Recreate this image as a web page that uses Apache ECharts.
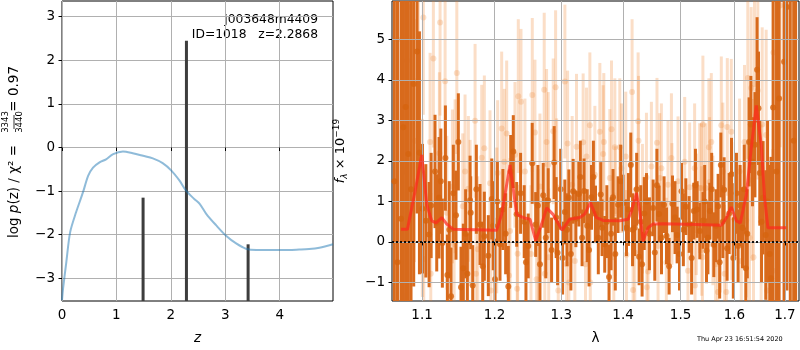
<!DOCTYPE html>
<html>
<head>
<meta charset="utf-8">
<script src="https://cdn.jsdelivr.net/npm/echarts@6/dist/echarts.min.js"></script>
<style>
  html, body { margin: 0; padding: 0; background: #fff; }
  #chart { width: 800px; height: 350px; }
</style>
</head>
<body>
<div id="chart"></div>
<script>
// left panel: redshift probability
const zGrid = [0.0, 0.02, 0.08, 0.15, 0.26, 0.385, 0.48, 0.57, 0.69, 0.81, 0.94, 1.12, 1.30, 1.49, 1.67, 1.85,
  2.01, 2.16, 2.28, 2.43, 2.53, 2.65, 2.83, 3.02, 3.20, 3.38, 3.57, 3.75, 4.06, 4.36, 4.54, 4.73, 4.98]
const logPz = [-3.5, -3.23, -2.62, -1.94, -1.48, -1.03, -0.65, -0.46, -0.34, -0.27, -0.15, -0.09, -0.13, -0.19, -0.25, -0.36,
  -0.53, -0.76, -0.99, -1.18, -1.29, -1.52, -1.78, -2.03, -2.20, -2.32, -2.35, -2.35, -2.35, -2.34, -2.33, -2.30, -2.22]
const zPeaks = [1.49, 2.2868, 3.42]
const peakVals = [-1.15, 2.45, -2.22]
const zTicks = [0, 1, 2, 3, 4]
const pzTicks = [-3, -2, -1, 0, 1, 2, 3]

// right panel: spectrum (dark = binned, light = unbinned)
const lamDark = [1.064, 1.068, 1.0726, 1.0755, 1.0785, 1.082, 1.0855, 1.089, 1.0934, 1.0965,
  1.1005, 1.105, 1.1093, 1.1172, 1.1195, 1.1226, 1.1271, 1.1312, 1.1339, 1.1389, 1.1457, 1.1489, 1.1526, 1.1558,
  1.1614, 1.1652, 1.1661, 1.1689, 1.1792, 1.1853, 1.1910, 1.1959, 1.2006, 1.2078, 1.2199, 1.2234, 1.2272, 1.2322,
  1.2434, 1.2494, 1.2554, 1.2606, 1.2671, 1.2721, 1.2797, 1.2849, 1.2889, 1.2942, 1.3055, 1.3118, 1.3186, 1.3229,
  1.3276, 1.3328, 1.3360, 1.3479, 1.3544, 1.3630, 1.3651, 1.3695, 1.3766, 1.3832, 1.3916, 1.4000, 1.4057, 1.4130,
  1.4198, 1.4272, 1.4323, 1.4399, 1.4514, 1.4543, 1.4618, 1.4706, 1.4749, 1.4795, 1.4855, 1.4938, 1.5017, 1.5095,
  1.5155, 1.5240, 1.5301, 1.5350, 1.5411, 1.5474, 1.5536, 1.5610, 1.5691, 1.5742, 1.5804, 1.5861, 1.5945, 1.6008,
  1.6072, 1.6157, 1.6221, 1.6285, 1.6351, 1.6442, 1.6495, 1.6561, 1.6614, 1.6694, 1.6761, 1.6830, 1.6882, 1.6983,
  1.7040, 1.7110, 1.7180, 1.7220,
  // in-between bins
  1.1120, 1.1250, 1.1365, 1.1420, 1.1590, 1.1740, 1.1830, 1.1980, 1.2040, 1.2120, 1.2160, 1.2380,
  1.2460, 1.2640, 1.2760, 1.2920, 1.2990, 1.3020, 1.3090, 1.3150, 1.3300, 1.3410, 1.3440, 1.3510,
  1.3590, 1.3730, 1.3800, 1.3870, 1.3960, 1.4090, 1.4160, 1.4230, 1.4300, 1.4360, 1.4450, 1.4580,
  1.4660, 1.4900, 1.4980, 1.5050, 1.5200, 1.5270, 1.5440, 1.5500, 1.5570, 1.5650, 1.5720, 1.5780,
  1.5900, 1.5980, 1.6040, 1.6110, 1.6190, 1.6250, 1.6320, 1.6400, 1.6470, 1.6530, 1.6650, 1.6720]
const fluxDark = [1.5, -0.5, 0.57, 2.83, 3.33, 2.17, 1.3, 3.9, 4.7, 2.2,
  0.82, 0.52, 0.18, 1.74, 0.47, 1.09, -0.03, 2.07, -0.82, -1.34, 0.66, 2.47, -1.12, -0.65,
  -0.79, 1.03, 0.72, -1.08, 0.43, 0.14, -0.34, 1.06, -0.92, -0.06, -1.1, 1.74, 2.23, 0.68,
  0.5, -0.1, 1.94, 0.43, -0.55, 1.15, 1.02, -0.2, 1.96, -0.27, 0.74, 1.09, 1.25, 0.57,
  1.18, 0.1, 1.26, 1.1, 0.69, 1.17, 0.35, -0.06, -0.87, 1.1, 0.92, 0.96, 0.35, 1.9,
  0.35, -0.37, -0.55, 1.0, 0.84, -0.26, 0.69, 0.92, 0.15, -0.6, 0.94, 0.17, 1.25, 0.87,
  0.43, 0.76, 0.8, 0.27, 0.53, -0.22, 0.76, -0.07, 0.88, 1.9, 1.29, -0.16, 1.67, 0.55,
  -0.1, 0.35, -0.65, 2.47, 1.98, 4.25, 1.7, 1.09, 0.17, -0.3, 3.32, 1.74, 3.54, 4.45,
  5.8, -1.8, 2.5, -2.2,
  0.9, 1.5, 0.3, 1.2, 0.2, 1.3, -0.6, 0.4, 1.0, 0.8, 0.2, 1.2,
  -0.5, 0.9, 0.1, 0.6, 1.3, -0.4, 0.3, -0.3, 1.6, 0.4, -0.2, 1.6,
  0.1, 0.5, 0.2, -0.3, 1.5, 0.8, 0.3, 1.3, 0.5, 0.7, 0.2, 1.4,
  0.1, 0.6, -0.3, 0.3, -0.4, 1.4, 1.0, 0.1, 1.3, 0.4, -0.5, 0.5,
  0.7, -0.4, 1.2, 0.9, 1.3, 0.2, 2.9, 2.4, 3.3, 0.5, 1.0, -0.9]
const errDark = [7, 7, 6, 6, 6, 5, 5, 5, 4, 3,
  1.6, 1.4, 1.3, 1.4, 1.2, 1.5, 1.1, 1.3, 1.0, 1.2, 1.1, 1.2, 1.0, 1.1,
  1.0, 1.1, 0.9, 1.0, 1.0, 1.1, 1.0, 1.0, 1.0, 0.9, 1.0, 0.9, 0.9, 0.8,
  0.9, 0.8, 1.0, 0.8, 0.9, 0.8, 0.8, 0.8, 0.9, 0.8, 0.8, 0.7, 0.8, 0.7,
  0.8, 0.7, 0.8, 0.8, 0.7, 0.8, 0.7, 0.7, 0.8, 0.7, 0.7, 0.7, 0.7, 0.8,
  0.7, 0.7, 0.8, 0.7, 0.7, 0.7, 0.7, 0.7, 0.7, 0.7, 0.7, 0.7, 0.7, 0.7,
  0.7, 0.7, 0.7, 0.7, 0.7, 0.8, 0.7, 0.8, 0.8, 0.8, 0.8, 0.8, 0.9, 0.9,
  0.9, 1.0, 1.0, 1.1, 1.1, 1.3, 1.3, 1.4, 1.6, 2.2, 5, 6, 6, 6,
  7, 8, 9, 9,
  1.3, 1.3, 1.2, 1.2, 1.1, 1.1, 1.1, 1.1, 1.0, 1.0, 1.0, 1.0,
  1.0, 1.0, 1.0, 1.0, 1.0, 0.9, 0.9, 0.9, 0.9, 0.9, 0.9, 0.9,
  0.9, 0.9, 0.9, 0.9, 0.9, 0.9, 0.9, 0.9, 0.9, 0.9, 0.9, 0.9,
  0.9, 0.9, 0.9, 0.9, 0.9, 0.9, 0.9, 0.9, 0.9, 0.9, 0.9, 0.9,
  1.0, 1.0, 1.0, 1.0, 1.1, 1.1, 1.2, 1.3, 1.4, 1.5, 2.0, 3]

const lamLight = [1.068, 1.075, 1.080, 1.086, 1.090, 1.095, 1.1004, 1.1017, 1.1022, 1.1106, 1.1115, 1.1150,
  1.1231, 1.1240, 1.1308, 1.1331, 1.1408, 1.1431, 1.1444, 1.1468, 1.1550, 1.1582, 1.1628, 1.1652,
  1.1722, 1.1735, 1.1760, 1.1816, 1.1853, 1.1934, 1.1945, 1.2030, 1.2044, 1.2102, 1.2141, 1.2175,
  1.2209, 1.2224, 1.2297, 1.2330, 1.2336, 1.2346, 1.2386, 1.2445, 1.2535, 1.2555, 1.2595, 1.2620,
  1.2645, 1.2671, 1.2736, 1.2745, 1.2772, 1.2797, 1.2805, 1.2874, 1.2911, 1.2927, 1.2952, 1.3056,
  1.3082, 1.3098, 1.3118, 1.3170, 1.3213, 1.3239, 1.3345, 1.3383, 1.3399, 1.3453, 1.3460, 1.3534,
  1.3615, 1.3669, 1.3680, 1.3779, 1.3807, 1.3845, 1.3862, 1.3870, 1.3945, 1.3973, 1.4045, 1.4057,
  1.4152, 1.4169, 1.4198, 1.4255, 1.4262, 1.4329, 1.4398, 1.4405, 1.4426, 1.4484, 1.4581, 1.4600,
  1.4629, 1.4659, 1.4746, 1.4775, 1.4836, 1.4845, 1.4954, 1.5074, 1.5133, 1.5164, 1.5255, 1.5262,
  1.5286, 1.5347, 1.5378, 1.5385, 1.5400, 1.5407, 1.5457, 1.5518, 1.5531, 1.5563, 1.5593, 1.5643,
  1.5687, 1.5732, 1.5751, 1.5781, 1.5813, 1.5846, 1.5865, 1.5941, 1.5950, 1.6100, 1.6133, 1.6196,
  1.6229, 1.6260, 1.6293, 1.6326, 1.6345, 1.6371, 1.6391, 1.6456, 1.6523, 1.6543, 1.6622, 1.6640,
  1.6755, 1.6769, 1.6904]
const fluxLight = [5.0, 1.74, 4.48, 5.8, 2.5, 4.0, 0.84, 5.54, -0.43, 2.47, -0.79, 4.53,
  2.19, 5.42, 3.97, 0.72, 1.37, -0.06, 1.62, 4.17, 0.88, 1.74, 1.31, 0.72,
  2.99, -0.79, -0.18, 2.08, 2.31, 1.45, -1.2, 0.53, 1.7, 2.8, 1.98, 2.68,
  -0.83, 0.27, 2.15, -1.16, -0.29, 3.6, 3.46, 1.74, -0.3, 3.63, 2.7, -0.92,
  0.1, 1.37, 3.76, -0.79, 2.47, 1.9, -0.38, 2.73, 3.82, 1.35, -1.2, 3.96,
  -0.55, 2.43, -1.0, 1.41, -0.47, 2.35, 2.46, -0.55, 2.11, 2.88, -1.0, 1.66,
  2.72, 2.17, 2.47, 1.58, 2.78, -0.38, 2.34, 0.76, 2.34, 1.82, 2.11, -0.32,
  3.7, -1.19, -0.26, 2.98, 2.5, 0.82, 1.59, -1.12, -0.73, 1.86, 2.45, -0.1,
  1.58, 1.82, -0.51, 1.41, 2.07, 0.94, 1.5, 1.98, -0.71, 1.35, 1.82, -1.08,
  0.68, 1.33, 1.33, 0.27, -0.38, 2.9, 1.33, 2.34, 1.48, 2.47, 0.53, -0.55,
  -1.24, 0.35, 2.88, 1.74, -0.79, -1.24, 2.84, 2.72, 0.76, 1.74, -0.47, 2.47,
  0.53, 4.05, 0.1, 3.8, 1.53, -0.38, 3.9, 3.74, 0.6, 2.9, 2.64, -1.2,
  -0.71, 4.68, 5.84]
const errLight = [3, 3, 3, 3, 3, 2.5, 2.2, 2.4, 2.2, 2.2, 2.0, 2.2,
  2.0, 2.3, 2.0, 1.9, 1.9, 1.8, 1.9, 2.0, 1.8, 1.9, 1.8, 1.8,
  1.9, 1.8, 1.8, 1.8, 1.8, 1.8, 1.7, 1.8, 1.8, 1.9, 1.8, 1.8,
  1.7, 1.8, 1.8, 1.7, 1.7, 1.9, 1.8, 1.8, 1.7, 1.9, 1.8, 1.7,
  1.7, 1.8, 1.9, 1.7, 1.8, 1.8, 1.7, 1.8, 1.9, 1.7, 1.7, 1.9,
  1.7, 1.8, 1.7, 1.7, 1.7, 1.8, 1.7, 1.7, 1.7, 1.8, 1.6, 1.7,
  1.7, 1.7, 1.7, 1.7, 1.7, 1.6, 1.7, 1.6, 1.7, 1.6, 1.6, 1.6,
  1.8, 1.6, 1.6, 1.7, 1.6, 1.6, 1.6, 1.6, 1.6, 1.6, 1.6, 1.6,
  1.6, 1.6, 1.6, 1.6, 1.6, 1.5, 1.6, 1.6, 1.6, 1.6, 1.6, 1.6,
  1.5, 1.6, 1.6, 1.6, 1.6, 1.7, 1.6, 1.7, 1.6, 1.7, 1.6, 1.6,
  1.6, 1.6, 1.7, 1.7, 1.7, 1.7, 1.7, 1.8, 1.7, 1.8, 1.8, 1.9,
  1.9, 2.0, 1.9, 2.0, 2.0, 2.0, 2.1, 2.2, 2.3, 2.4, 2.6, 2.6,
  3, 3, 3.5]

const lamModel = [1.0726, 1.0808, 1.0908, 1.0996, 1.1062, 1.1128, 1.1186, 1.1263, 1.1331, 1.1422, 1.2030, 1.2102,
  1.2224, 1.2263, 1.2322, 1.2421, 1.2520, 1.2606, 1.2697, 1.2773, 1.2871, 1.3012, 1.3132, 1.3291,
  1.3371, 1.3462, 1.3560, 1.3669, 1.3945, 1.4085, 1.4141, 1.4226, 1.4283, 1.4340, 1.4426, 1.4513,
  1.4688, 1.5286, 1.5751, 1.5846, 1.5941, 1.6037, 1.6114, 1.6231, 1.6328, 1.6426, 1.6525, 1.6591,
  1.6657, 1.6823, 1.7026]
const fluxModel = [0.31, 0.31, 1.25, 2.15, 0.92, 0.52, 0.47, 0.60, 0.44, 0.31, 0.29, 0.68,
  1.90, 1.41, 0.68, 0.60, 0.56, 0.03, 0.44, 0.84, 0.68, 0.29, 0.56, 0.60,
  0.69, 0.97, 0.60, 0.53, 0.52, 0.56, 0.76, 1.21, 0.76, 0.02, 0.35, 0.44,
  0.45, 0.43, 0.41, 0.59, 0.86, 0.52, 0.47, 1.16, 2.32, 3.37, 2.39, 1.08,
  0.35, 0.35, 0.35]
const lamTicks = [1.1, 1.2, 1.3, 1.4, 1.5, 1.6, 1.7]
const fluxTicks = [-1, 0, 1, 2, 3, 4, 5]

const FONT = 'DejaVu Sans'
const minus = v => (v < 0 ? '\u2212' + Math.abs(v) : String(v))
const lg = Math.log10

function vbar(color, width) {
  return function (params, api) {
    const x = api.value(0), y = api.value(1), e = api.value(2)
    const p0 = api.coord([x, y - e])
    const p1 = api.coord([x, y + e])
    return {
      type: 'line',
      shape: { x1: p0[0], y1: p0[1], x2: p1[0], y2: p1[1] },
      style: { stroke: color, lineWidth: width }
    }
  }
}

function stem(params, api) {
  const x = api.value(0), y = api.value(1)
  const p0 = api.coord([x, -3.52])
  const p1 = api.coord([x, y])
  return {
    type: 'line',
    shape: { x1: p0[0], y1: p0[1], x2: p1[0], y2: p1[1] },
    style: { stroke: '#3d3d3d', lineWidth: 3 }
  }
}

const axisCommon = {
  axisLine: { show: false },
  axisTick: { show: true, length: 3.5, lineStyle: { color: '#000' } },
  axisLabel: { color: '#000', fontFamily: FONT, fontSize: 13.5, margin: 7, formatter: minus },
  splitLine: { show: true, lineStyle: { color: '#b0b0b0', width: 1 } },
  nameTextStyle: { color: '#000', fontFamily: FONT, fontSize: 13.5 }
}

const chart = echarts.init(document.getElementById('chart'))

chart.setOption({
  animation: false,
  grid: [
    { left: 62, top: 1, width: 271, height: 303, show: true, borderColor: '#000', borderWidth: 1, backgroundColor: 'transparent' },
    { left: 392, top: 1, width: 407, height: 303, show: true, borderColor: '#000', borderWidth: 1, backgroundColor: 'transparent' }
  ],
  xAxis: [
    Object.assign({}, axisCommon, {
      gridIndex: 0, type: 'value', min: 0, max: 4.98,
      axisTick: Object.assign({}, axisCommon.axisTick, { customValues: zTicks }),
      axisLabel: Object.assign({}, axisCommon.axisLabel, { customValues: zTicks }),
      name: 'z', nameLocation: 'middle', nameGap: 30,
      nameTextStyle: Object.assign({}, axisCommon.nameTextStyle, { fontStyle: 'italic' })
    }),
    Object.assign({}, axisCommon, {
      gridIndex: 1, type: 'value', min: lg(1.061), max: lg(1.729), z: 3,
      axisTick: Object.assign({}, axisCommon.axisTick, { customValues: lamTicks.map(lg) }),
      axisLabel: Object.assign({}, axisCommon.axisLabel, {
        customValues: lamTicks.map(lg),
        formatter: v => Math.pow(10, v).toFixed(1)
      }),
      name: 'λ', nameLocation: 'middle', nameGap: 30
    })
  ],
  yAxis: [
    Object.assign({}, axisCommon, {
      gridIndex: 0, type: 'value', min: -3.52, max: 3.36,
      axisTick: Object.assign({}, axisCommon.axisTick, { customValues: pzTicks }),
      axisLabel: Object.assign({}, axisCommon.axisLabel, { customValues: pzTicks })
    }),
    Object.assign({}, axisCommon, {
      gridIndex: 1, type: 'value', min: -1.46, max: 5.95, z: 3,
      axisTick: Object.assign({}, axisCommon.axisTick, { customValues: fluxTicks }),
      axisLabel: Object.assign({}, axisCommon.axisLabel, { customValues: fluxTicks }),
      name: '{i|f}{s|λ}{n| × 10}{p|−19}',
      nameLocation: 'middle', nameGap: 43, nameRotate: 90,
      nameTextStyle: {
        color: '#000', fontFamily: FONT, fontSize: 13.5,
        rich: {
          n: { fontFamily: FONT, fontSize: 13, color: '#000' },
          i: { fontFamily: FONT, fontSize: 13, color: '#000', fontStyle: 'italic' },
          s: { fontFamily: FONT, fontSize: 9, color: '#000', fontStyle: 'italic', padding: [8, 0, 0, 0] },
          p: { fontFamily: FONT, fontSize: 9, color: '#000', padding: [0, 0, 8, 0] }
        }
      }
    })
  ],
  series: [
    {
      type: 'line', xAxisIndex: 0, yAxisIndex: 0, z: 4,
      data: zGrid.map((z, i) => [z, logPz[i]]),
      symbol: 'none', smooth: 0.3,
      lineStyle: { color: 'rgba(31,119,180,0.5)', width: 2 }
    },
    {
      type: 'custom', xAxisIndex: 0, yAxisIndex: 0, z: 4, clip: true,
      data: zPeaks.map((z, i) => [z, peakVals[i]]),
      renderItem: stem
    },
    {
      type: 'custom', xAxisIndex: 1, yAxisIndex: 1, z: 1, clip: true,
      data: lamLight.map((l, i) => [lg(l), fluxLight[i], errLight[i]]),
      renderItem: vbar('rgba(240,125,30,0.25)', 3)
    },
    {
      type: 'scatter', xAxisIndex: 1, yAxisIndex: 1, z: 1, clip: true,
      data: lamLight.map((l, i) => [lg(l), fluxLight[i]]),
      symbol: 'circle', symbolSize: 6,
      itemStyle: { color: 'rgba(235,130,50,0.3)' }
    },
    {
      type: 'custom', xAxisIndex: 1, yAxisIndex: 1, z: 2, clip: true,
      data: lamDark.map((l, i) => [lg(l), fluxDark[i], errDark[i]]),
      renderItem: vbar('#d86a1c', 3)
    },
    {
      type: 'scatter', xAxisIndex: 1, yAxisIndex: 1, z: 2, clip: true,
      data: lamDark.map((l, i) => [lg(l), fluxDark[i]]),
      symbol: 'circle', symbolSize: 6,
      itemStyle: { color: '#d6640f' }
    },
    {
      type: 'line', xAxisIndex: 1, yAxisIndex: 1, z: 5,
      data: lamModel.map((l, i) => [lg(l), fluxModel[i]]),
      symbol: 'none',
      lineStyle: { color: 'rgba(255,40,30,0.7)', width: 3 },
      markLine: {
        silent: true, symbol: 'none', label: { show: false },
        lineStyle: { color: '#000', type: [2, 2], width: 1.8 },
        data: [{ yAxis: 0 }]
      }
    }
  ],
  graphic: [
    {
      // left y-axis label, with a stacked fraction, read from bottom to top
      type: 'group', x: 14, y: 152, rotation: Math.PI / 2,
      children: [
        { type: 'text', x: -86, y: 0, style: { rich: {
            n: { font: '13.5px "DejaVu Sans"', fill: '#000' },
            i: { font: 'italic 13.5px "DejaVu Sans"', fill: '#000' }
          }, text: '{n|log }{i|p}{n|(z) / χ}{n|²}{n| =}', fill: '#000', textAlign: 'left', textVerticalAlign: 'middle' } },
        { type: 'text', x: 30, y: -4, style: { text: '3343', font: '8.5px "DejaVu Sans"', fill: '#000', textAlign: 'center', textVerticalAlign: 'bottom' } },
        { type: 'line', shape: { x1: 23, y1: 0, x2: 37, y2: 0 }, style: { stroke: '#000', lineWidth: 0.8 } },
        { type: 'text', x: 30, y: 1, style: { text: '3440', font: '8.5px "DejaVu Sans"', fill: '#000', textAlign: 'center', textVerticalAlign: 'top' } },
        { type: 'text', x: 86, y: 0, style: { text: '= 0.97', font: '13.5px "DejaVu Sans"', fill: '#000', textAlign: 'right', textVerticalAlign: 'middle' } }
      ]
    },
    { type: 'text', x: 318, y: 20, style: { text: 'j003648m4409', font: '12.3px "DejaVu Sans"', fill: '#000', textAlign: 'right', textVerticalAlign: 'middle' } },
    { type: 'text', x: 318, y: 35, style: { text: 'ID=1018   z=2.2868', font: '12.3px "DejaVu Sans"', fill: '#000', textAlign: 'right', textVerticalAlign: 'middle' } },
    { type: 'text', x: 697, y: 339, style: { text: 'Thu Apr 23 16:51:54 2020', font: '6.5px "DejaVu Sans"', fill: '#000', textVerticalAlign: 'middle' } }
  ]
})
</script>
</body>
</html>
